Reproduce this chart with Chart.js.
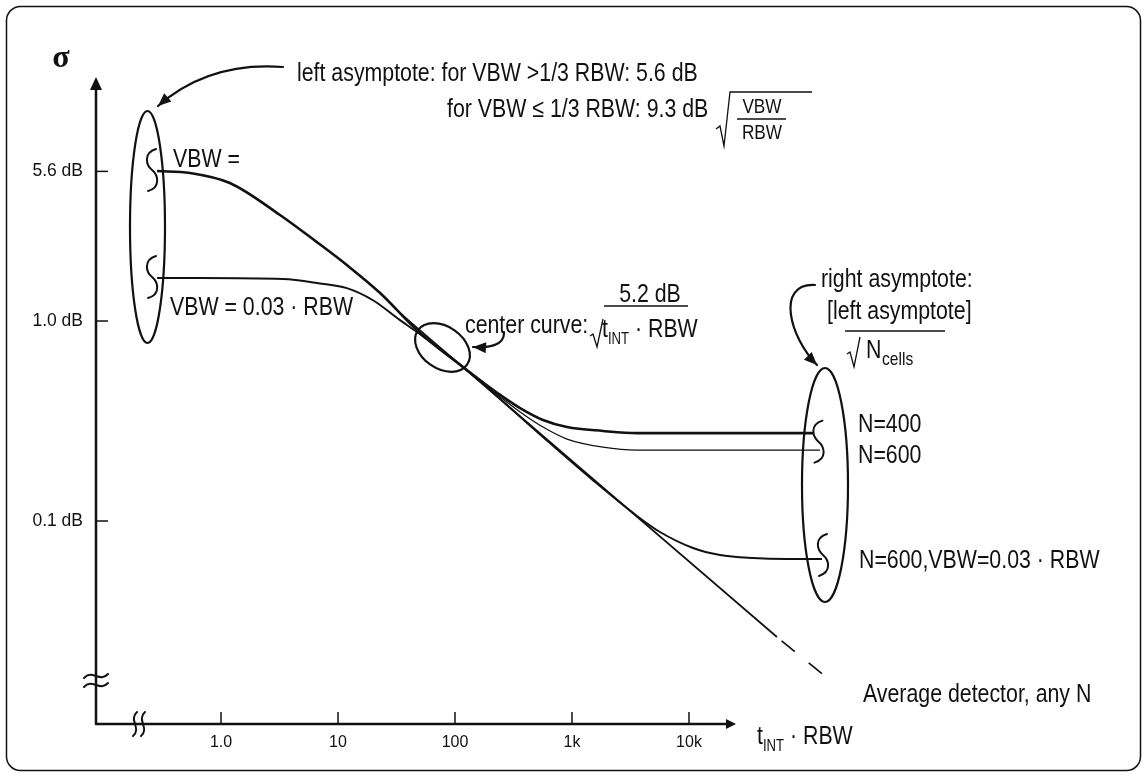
<!DOCTYPE html>
<html>
<head>
<meta charset="utf-8">
<script src="https://cdn.jsdelivr.net/npm/chart.js@4.4.1/dist/chart.umd.min.js"></script>
<style>
	html, body { margin: 0; background: #fff; }
	canvas { display: block; }
</style>
</head>
<body>
<canvas id="sigma" width="1147" height="777"></canvas>
<script>
// x = t_INT * RBW, y = sigma (dB), both

// VBW = ... curve, ends on N=400
const n400X = [0.284, 0.543, 1.19, 3.19, 6.6, 11.9, 22.9, 47.3, 117, 243, 360, 565, 906, 1841, 3594, 114800];
const n400Y = [5.62, 5.5, 4.9, 3.39, 2.48, 1.905, 1.38, 0.9, 0.589, 0.427, 0.367, 0.32, 0.295, 0.282, 0.275, 0.275];

// N=600 branch
const n600X = [47.3, 117, 199, 360, 565, 906, 1841, 3594, 131800];
const n600Y = [0.9, 0.589, 0.457, 0.351, 0.295, 0.257, 0.234, 0.226, 0.226];

// VBW = 0.03 * RBW curve, ends on N=600,VBW=0.03*RBW
const vbwX = [0.284, 0.662, 3.39, 6.6, 11.9, 19.9, 33.9, 47.3, 75.9, 117, 565, 1511, 3594, 5650, 10820, 18400, 35200, 68800, 137000];
const vbwY = [1.64, 1.64, 1.62, 1.55, 1.46, 1.27, 1.01, 0.881, 0.716, 0.589, 0.263, 0.16, 0.106, 0.0881, 0.0733, 0.0676, 0.0653, 0.0646, 0.0646];

// average detector (center curve), last piece dashed
const avgX = [33.9, 56500, 148300];
const avgY = [1.096, 0.0263, 0.0166];

const xTickValues = [1, 10, 100, 1000, 10000];
const xTickLabels = ["1.0", "10", "100", "1k", "10k"];
const yTickValues = [5.6, 1.0, 0.1];
const yTickLabels = ["5.6 dB", "1.0 dB", "0.1 dB"];

const X_MIN = 0.0854, X_MAX = 3.26e7;
const Y_MIN = 0.00966, Y_MAX = 16.6;

const INK = "#111";

function hasFont(name) {
	const c = document.createElement("canvas").getContext("2d");
	c.font = "40px monospace";
	const a = c.measureText("abcdefgVBW").width;
	c.font = `40px "${name}", monospace`;
	return c.measureText("abcdefgVBW").width !== a;
}
const NARROW = hasFont("Liberation Sans Narrow");
const FAMILY = NARROW ? '"Liberation Sans Narrow"' : '"Liberation Sans", Arial, sans-serif';
const SX = NARROW ? 1 : 0.82;

function pts(xs, ys) {
	return xs.map((x, i) => ({ x: x, y: ys[i] }));
}

function text(ctx, s, x, y, size, align) {
	ctx.save();
	ctx.font = size + "px " + FAMILY;
	ctx.textAlign = align || "left";
	ctx.textBaseline = "alphabetic";
	ctx.fillStyle = INK;
	ctx.translate(x, y);
	ctx.scale(SX, 1);
	ctx.fillText(s, 0, 0);
	ctx.restore();
}
function textWidth(ctx, s, size) {
	ctx.save();
	ctx.font = size + "px " + FAMILY;
	const w = ctx.measureText(s).width * SX;
	ctx.restore();
	return w;
}
// "t" with INT subscript followed by the rest
function tInt(ctx, x, y, rest) {
	text(ctx, "t", x, y, 26);
	let cx = x + textWidth(ctx, "t", 26);
	text(ctx, "INT", cx, y + 7, 16);
	cx += textWidth(ctx, "INT", 16);
	text(ctx, rest, cx, y, 26);
}

function arrowhead(ctx, tx, ty, dx, dy, len, half) {
	const bx = tx - dx * len, by = ty - dy * len;
	ctx.beginPath();
	ctx.moveTo(tx, ty);
	ctx.lineTo(bx - dy * half, by + dx * half);
	ctx.lineTo(bx + dy * half, by - dx * half);
	ctx.closePath();
	ctx.fill();
}
function curvedArrow(ctx, p) {
	ctx.beginPath();
	ctx.moveTo(p[0], p[1]);
	ctx.bezierCurveTo(p[2], p[3], p[4], p[5], p[6], p[7]);
	ctx.stroke();
	const dx = p[6] - p[4], dy = p[7] - p[5];
	const l = Math.hypot(dx, dy);
	arrowhead(ctx, p[6], p[7], dx / l, dy / l, 13, 5.5);
}
function curl(ctx, cx, cy) {
	ctx.beginPath();
	ctx.moveTo(cx + 4, cy - 21);
	ctx.bezierCurveTo(cx - 9, cy - 17, cx - 6, cy - 5, cx, cy);
	ctx.bezierCurveTo(cx + 6, cy + 5, cx + 9, cy + 17, cx - 4, cy + 21);
	ctx.stroke();
}
function ellipse(ctx, cx, cy, rx, ry, rot) {
	ctx.beginPath();
	ctx.ellipse(cx, cy, rx, ry, rot, 0, Math.PI * 2);
	ctx.stroke();
}
function poly(ctx, p) {
	ctx.beginPath();
	ctx.moveTo(p[0], p[1]);
	for (let i = 2; i < p.length; i += 2) ctx.lineTo(p[i], p[i + 1]);
	ctx.stroke();
}

const sketch = {
	id: "sketch",
	beforeDraw(chart) {
		const ctx = chart.ctx;
		ctx.save();
		ctx.fillStyle = "#fff";
		ctx.fillRect(0, 0, chart.width, chart.height);
		ctx.strokeStyle = INK;
		ctx.lineWidth = 1.5;
		ctx.beginPath();
		ctx.roundRect(6.5, 6.5, 1134, 764, 14);
		ctx.stroke();
		ctx.restore();
	},
	afterDraw(chart) {
		const ctx = chart.ctx;
		const { left, top, bottom } = chart.chartArea;
		const xs = chart.scales.x, ys = chart.scales.y;
		ctx.save();
		ctx.strokeStyle = INK;
		ctx.fillStyle = INK;
		ctx.lineCap = "round";

		// axes with arrows
		ctx.lineWidth = 2.5;
		ctx.beginPath();
		ctx.moveTo(left, bottom);
		ctx.lineTo(left, top + 10);
		ctx.moveTo(left, bottom);
		ctx.lineTo(728, bottom);
		ctx.stroke();
		arrowhead(ctx, left, top, 0, -1, 13, 6);
		arrowhead(ctx, 736, bottom, 1, 0, 10, 5);

		// tick marks on the inside
		ctx.lineWidth = 1.5;
		ctx.lineCap = "butt";
		xs.ticks.forEach(t => {
			const px = xs.getPixelForValue(t.value);
			poly(ctx, [px, bottom, px, bottom - 12]);
		});
		ys.ticks.forEach(t => {
			const py = ys.getPixelForValue(t.value);
			poly(ctx, [left, py, left + 12, py]);
		});

		// axis breaks
		ctx.lineWidth = 2;
		ctx.lineCap = "round";
		[676, 685].forEach(yy => {
			ctx.beginPath();
			ctx.moveTo(left - 12, yy + 2);
			ctx.bezierCurveTo(left - 4, yy - 7, left + 4, yy + 7, left + 12, yy - 2);
			ctx.stroke();
		});
		[135, 143].forEach(xx => {
			ctx.beginPath();
			ctx.moveTo(xx + 2, bottom - 12);
			ctx.bezierCurveTo(xx - 7, bottom - 4, xx + 7, bottom + 4, xx - 2, bottom + 12);
			ctx.stroke();
		});

		// curls at the ends of the curves
		const p = (ds, i) => chart.getDatasetMeta(ds).data[i];
		const a0 = p(0, 0), c0 = p(2, 0);
		curl(ctx, a0.x - 5, a0.y - 1);
		curl(ctx, c0.x - 5, c0.y - 1);
		const a1 = p(0, n400X.length - 1), b1 = p(1, n600X.length - 1), c1 = p(2, vbwX.length - 1);
		curl(ctx, (a1.x + b1.x) / 2 + 2, (a1.y + b1.y) / 2);
		curl(ctx, c1.x + 1, c1.y - 4);

		// ellipses
		ctx.lineWidth = 2.2;
		ellipse(ctx, 147.5, 227, 17.5, 116, 0);
		ellipse(ctx, 442.5, 347.5, 30, 21, 0.61);
		ellipse(ctx, 825, 485, 23, 117, 0);

		// pointer arrows
		ctx.lineWidth = 2.2;
		curvedArrow(ctx, [283, 67, 230, 63, 190, 78, 158, 106]);
		curvedArrow(ctx, [504, 333, 504, 345, 490, 348, 473, 347]);
		curvedArrow(ctx, [815, 285, 775, 283, 790, 338, 817, 365]);

		// sigma
		ctx.font = 'bold 32px "Liberation Serif", serif';
		ctx.textAlign = "center";
		ctx.fillText("\u03c3", 61, 67);

		// left asymptote note
		text(ctx, "left asymptote: for VBW >1/3 RBW: 5.6 dB", 297, 81, 26);
		text(ctx, "for VBW \u2264 1/3 RBW: 9.3 dB", 447, 117, 26);
		ctx.lineWidth = 1.3;
		ctx.lineCap = "butt";
		poly(ctx, [716, 129, 720, 126, 724, 146, 730, 92, 812, 92]);
		text(ctx, "VBW", 762, 113, 21, "center");
		poly(ctx, [737, 119, 786, 119]);
		text(ctx, "RBW", 762, 139, 21, "center");

		text(ctx, "VBW =", 173, 167, 26);
		text(ctx, "VBW = 0.03 \u00b7 RBW", 170, 315, 26);

		// center curve note
		text(ctx, "center curve:", 465, 333, 26);
		text(ctx, "5.2 dB", 650, 302, 26, "center");
		ctx.lineWidth = 1.5;
		poly(ctx, [604, 306, 688, 306]);
		ctx.lineWidth = 1.3;
		poly(ctx, [590, 336, 593, 334, 597, 347, 603, 319]);
		tInt(ctx, 602, 337, " \u00b7 RBW");

		// right asymptote note
		text(ctx, "right asymptote:", 821, 287, 26);
		text(ctx, "[left asymptote]", 827, 319, 26);
		ctx.lineWidth = 1.5;
		poly(ctx, [845, 331, 945, 331]);
		ctx.lineWidth = 1.3;
		poly(ctx, [847, 354, 850, 352, 854, 367, 860, 337]);
		text(ctx, "N", 866, 358, 26);
		text(ctx, "cells", 882, 365, 19);

		text(ctx, "N=400", 858, 432, 26);
		text(ctx, "N=600", 858, 463, 26);
		text(ctx, "N=600,VBW=0.03 \u00b7 RBW", 859, 568, 26);
		text(ctx, "Average detector, any N", 863, 702, 26);

		// x axis title
		tInt(ctx, 757, 744, " \u00b7 RBW");

		ctx.restore();
	},
};

const tickFont = (narrowSize, wideSize) => ({
	family: NARROW ? "Liberation Sans Narrow" : "Liberation Sans",
	size: NARROW ? narrowSize : wideSize,
});

const config = {
	type: "line",
	data: {
		datasets: [
			{ data: pts(n400X, n400Y), borderWidth: 2.6 },
			{ data: pts(n600X, n600Y), borderWidth: 1.3 },
			{ data: pts(vbwX, vbwY), borderWidth: 2 },
			{
				data: pts(avgX, avgY),
				borderWidth: 1.7,
				cubicInterpolationMode: "default",
				tension: 0,
				segment: {
					borderDash: c => (c.p0DataIndex === 1 ? [17, 18] : undefined),
					borderDashOffset: c => (c.p0DataIndex === 1 ? 29 : undefined),
				},
			},
		],
	},
	options: {
		responsive: false,
		animation: false,
		devicePixelRatio: 1,
		events: [],
		layout: { padding: { top: 77, right: 47, bottom: 0, left: 0 } },
		elements: {
			point: { radius: 0 },
			line: { borderColor: INK, fill: false, cubicInterpolationMode: "monotone", borderCapStyle: "butt" },
		},
		plugins: { legend: { display: false }, tooltip: { enabled: false } },
		scales: {
			x: {
				type: "logarithmic",
				min: X_MIN,
				max: X_MAX,
				bounds: "data",
				grid: { display: false, drawTicks: false },
				border: { display: false },
				afterBuildTicks: s => {
					s.ticks = xTickValues.map(v => ({ value: v }));
				},
				afterFit: s => {
					s.height = 53;
				},
				ticks: {
					autoSkip: false,
					maxRotation: 0,
					padding: 9,
					color: INK,
					font: tickFont(19, 16),
					callback: (v, i) => xTickLabels[i],
				},
			},
			y: {
				type: "logarithmic",
				min: Y_MIN,
				max: Y_MAX,
				bounds: "data",
				grid: { display: false, drawTicks: false },
				border: { display: false },
				afterBuildTicks: s => {
					s.ticks = yTickValues.map(v => ({ value: v }));
				},
				afterFit: s => {
					s.width = 96;
				},
				ticks: {
					autoSkip: false,
					padding: 13,
					color: INK,
					font: tickFont(21, 17.5),
					callback: (v, i) => yTickLabels[i],
				},
			},
		},
	},
	plugins: [sketch],
};

new Chart(document.getElementById("sigma"), config);
</script>
</body>
</html>
